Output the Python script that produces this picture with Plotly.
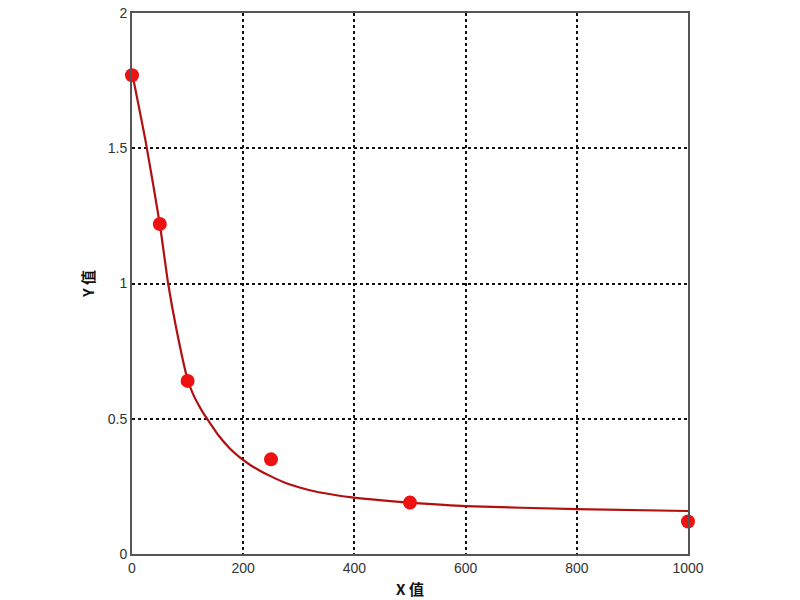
import plotly.graph_objects as go

# measured standard points
x_pts = [0, 50, 100, 250, 500, 1000]
y_pts = [1.77, 1.22, 0.64, 0.35, 0.19, 0.12]

# fitted curve
x_fit = [0, 25, 50, 65, 80, 100, 110, 120, 130, 140, 155, 176, 195, 212, 230, 250, 272, 300, 332, 360, 392, 450, 500, 600, 800, 1000]
y_fit = [1.78, 1.52, 1.22, 1.0, 0.83, 0.645, 0.59, 0.55, 0.515, 0.485, 0.44, 0.39, 0.355, 0.33, 0.308, 0.287, 0.266, 0.247, 0.23, 0.22, 0.21, 0.198, 0.19, 0.177, 0.166, 0.159]

x_ticks = [0, 200, 400, 600, 800, 1000]
y_ticks = [0, 0.5, 1, 1.5, 2]

fig = go.Figure()
fig.add_trace(go.Scatter(x=x_fit, y=y_fit, mode="lines", line=dict(color="#b01010", width=2.2, shape="spline", smoothing=0.5),
                         hoverinfo="skip", showlegend=False))
fig.add_trace(go.Scatter(x=x_pts, y=y_pts, mode="markers", marker=dict(color="#ee1111", size=14), showlegend=False, cliponaxis=False))

tickfont = dict(family="Liberation Sans, Arial, sans-serif", size=14, color="#333")
titlefont = dict(family="Noto Sans CJK SC, sans-serif", size=15, color="#111", weight="bold")

fig.update_layout(
    width=800, height=600,
    margin=dict(l=132, r=112, t=13, b=46),
    paper_bgcolor="white", plot_bgcolor="white",
    xaxis=dict(range=[0, 1000], tickvals=x_ticks, ticks="", showgrid=True, gridcolor="#111", gridwidth=1.5, griddash="dot",
               showline=True, mirror=True, linecolor="#555", linewidth=2, zeroline=False, tickfont=tickfont, automargin=False,
               title=dict(text="X 值", font=titlefont, standoff=10)),
    yaxis=dict(range=[0, 2], tickvals=y_ticks, ticks="", showgrid=True, gridcolor="#111", gridwidth=1.5, griddash="3px,3px",
               showline=True, mirror=True, linecolor="#555", linewidth=2, zeroline=False, tickfont=tickfont, automargin=False,
               title=dict(text="Y 值", font=titlefont, standoff=9)),
)
fig.write_html("out.html", config={"displayModeBar": False}, post_script="document.body.style.margin='0';")
